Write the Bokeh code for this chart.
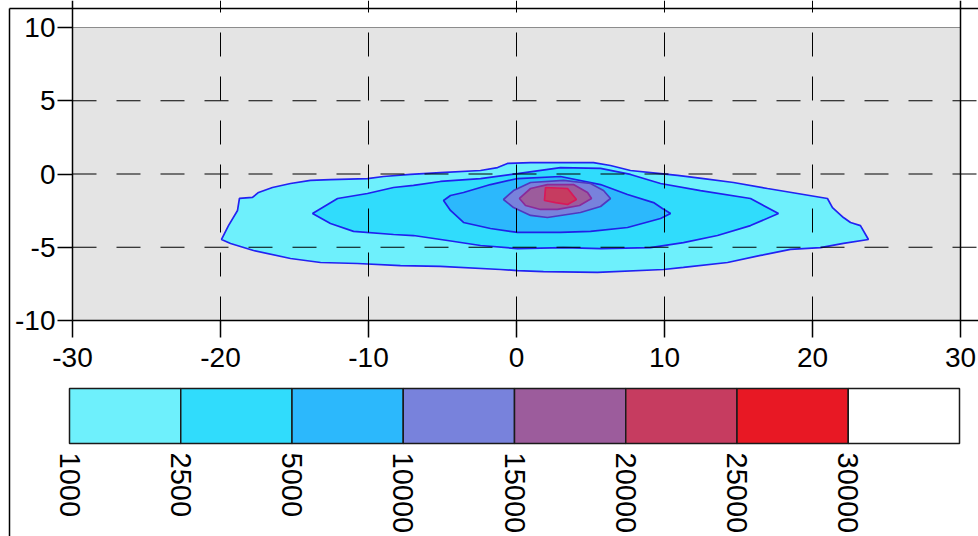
import numpy as np
from bokeh.plotting import figure
from bokeh.models import FixedTicker, Range1d, ColumnDataSource
from bokeh.embed import file_html
from bokeh.resources import INLINE
from bokeh.core.properties import value

# ---------------- data ----------------
level_labels = ["1000", "2500", "5000", "10000", "15000", "20000", "25000", "30000"]
level_colors = ["#6EF0FC", "#30DCFC", "#2CB8FC", "#7882DC", "#9C5C9C", "#C63C60", "#E81824", "#FFFFFF"]
x_ticks = [-30, -20, -10, 0, 10, 20, 30]
y_ticks = [-10, -5, 0, 5, 10]

# filled contour regions (outer boundary of each level)
c1000_x = [-19.93, -19.46, -18.85, -18.72, -17.84, -17.43, -16.49, -15.27, -13.92, -12.57, -10.07, -8.99,
           -7.16, -5.14, -2.43, -1.28, -0.61, 0.95, 5.20, 6.35, 7.70, 9.73, 10.88, 12.64, 14.66, 16.96,
           18.99, 21.01, 21.35, 22.09, 22.57, 23.24, 23.78, 22.09, 20.54, 18.51, 16.49, 14.26, 11.28, 9.93,
           5.47, 1.82, 0.07, -1.08, -5.14, -7.84, -10.74, -13.24, -15.27, -17.77, -19.32]
c1000_y = [-4.47, -3.52, -2.49, -1.67, -1.60, -1.26, -0.92, -0.65, -0.44, -0.38, -0.31, -0.17,
           -0.03, 0.10, 0.24, 0.44, 0.72, 0.78, 0.78, 0.58, 0.24, 0.03, -0.10, -0.31, -0.58, -0.99,
           -1.33, -1.67, -2.29, -2.97, -3.31, -3.52, -4.47, -4.74, -5.02, -5.15, -5.56, -6.04, -6.38, -6.52,
           -6.72, -6.66, -6.59, -6.52, -6.31, -6.25, -6.11, -6.04, -5.77, -5.22, -4.74]

c2500_x = [-13.78, -12.09, -10.07, -8.31, -6.96, -5.14, -2.43, 0.07, 2.97, 5.68, 7.70, 9.73, 12.43,
           15.81, 17.70, 15.81, 13.58, 11.28, 9.05, 5.68, 3.18, 0.07, -2.43, -4.66, -6.96, -8.31,
           -11.01, -12.57]
c2500_y = [-2.70, -1.67, -1.33, -0.92, -0.78, -0.51, -0.31, 0.03, 0.44, 0.38, -0.03, -0.65, -1.13,
           -1.67, -2.70, -3.52, -4.20, -4.68, -5.02, -5.09, -5.02, -5.09, -4.88, -4.54, -4.20, -4.13,
           -3.92, -3.38]

c5000_x = [-4.93, -4.46, -3.58, -1.76, 0.07, 2.97, 5.68, 7.50, 9.26, 9.86, 10.41, 9.73, 7.50, 5.00,
           2.97, 0.07, -1.76, -3.58, -4.46]
c5000_y = [-1.81, -1.47, -1.26, -0.72, -0.31, -0.17, -0.72, -1.40, -1.95, -2.35, -2.70, -3.04, -3.65,
           -3.92, -3.99, -3.99, -3.72, -3.31, -2.49]

c10000_x = [-0.88, -0.20, 0.95, 3.18, 5.00, 5.88, 6.35, 5.68, 4.32, 2.09, 0.95, -0.20]
c10000_y = [-1.74, -1.13, -0.58, -0.44, -0.65, -1.13, -1.67, -2.22, -2.63, -2.97, -2.83, -2.29]

c15000_x = [0.20, 0.95, 2.09, 3.85, 4.80, 5.07, 4.26, 2.77, 1.62, 0.61]
c15000_y = [-1.67, -0.99, -0.72, -0.72, -1.26, -1.67, -2.15, -2.42, -2.42, -2.15]

c20000_x = [1.96, 3.45, 4.05, 3.45, 2.64, 1.89]
c20000_y = [-0.92, -0.99, -1.74, -2.08, -1.95, -1.81]

contour_xs = [c1000_x, c2500_x, c5000_x, c10000_x, c15000_x, c20000_x]
contour_ys = [c1000_y, c2500_y, c5000_y, c10000_y, c15000_y, c20000_y]

# ---------------- layout (canvas pixels) ----------------
W, H = 978, 536
PX_L, PX_R = 72, 960      # x = -30, x = 30
PY_T, PY_B = 27, 320      # y = 10, y = -10
sx = (PX_R - PX_L) / (x_ticks[-1] - x_ticks[0])
sy = (PY_B - PY_T) / (y_ticks[-1] - y_ticks[0])
X0 = x_ticks[0] - PX_L / sx
X1 = X0 + W / sx
Y1 = y_ticks[-1] + PY_T / sy
Y0 = Y1 - H / sy


def cx(px):
    return X0 + px / sx


def cy(py):
    return Y1 - py / sy


FONT = "Liberation Sans"

p = figure(width=W, height=H, x_range=Range1d(X0, X1), y_range=Range1d(Y0, Y1),
           output_backend="svg", toolbar_location=None, title=None, min_border=0)
p.min_border_left = p.min_border_right = p.min_border_top = p.min_border_bottom = 0
p.outline_line_color = None
p.background_fill_color = "white"
p.border_fill_color = "white"
p.xgrid.visible = False
p.ygrid.visible = False

# grey plotting box
p.quad(left=[x_ticks[0]], right=[x_ticks[-1]], bottom=[y_ticks[0]], top=[y_ticks[-1]],
       fill_color="#E4E4E4", line_color="#8C8C8C", line_width=1)

# filled contours
line_cols = ["#2222F2", "#2020F0", "#2020E8", "#5038C0", "#8A2A9A", "#D8185A"]
src = ColumnDataSource(dict(xs=contour_xs, ys=contour_ys, fill=level_colors[:len(contour_xs)],
                            line=line_cols))
p.patches(xs="xs", ys="ys", source=src, fill_color="fill", line_color="line", line_width=1.7)

# dashed grid lines, drawn on top of the contours
gx = x_ticks[1:-1]
gy = y_ticks[1:-1]
p.segment(x0=gx, y0=[y_ticks[0]] * len(gx), x1=gx, y1=[Y1] * len(gx),
          line_color="black", line_width=1, line_dash="24 20")
p.segment(x0=[x_ticks[0]] * len(gy), y0=gy, x1=[X1] * len(gy), y1=gy,
          line_color="black", line_width=1, line_dash="24 20")
# solid right edge of the plotting box
p.segment(x0=[x_ticks[-1]], y0=[y_ticks[0]], x1=[x_ticks[-1]], y1=[Y1],
          line_color="black", line_width=1.5)

# outer frame lines (left and top)
p.segment(x0=[cx(9), cx(9)], y0=[Y0, cy(8)], x1=[cx(9), X1], y1=[cy(8), cy(8)],
          line_color="black", line_width=1.5)

# axes
xa = p.xaxis[0]
ya = p.yaxis[0]
xa.fixed_location = y_ticks[0]
ya.fixed_location = x_ticks[0]
xa.bounds = (x_ticks[0], X1)
ya.bounds = (y_ticks[0], Y1)
xa.ticker = FixedTicker(ticks=x_ticks)
ya.ticker = FixedTicker(ticks=y_ticks)
xa.major_label_overrides = {t: str(t) for t in x_ticks}
ya.major_label_overrides = {t: str(t) for t in y_ticks}
for ax, tout, so in ((xa, 17, 10), (ya, 15, 2)):
    ax.major_tick_out = tout
    ax.major_tick_in = 0
    ax.minor_tick_out = 0
    ax.minor_tick_in = 0
    ax.axis_line_color = "black"
    ax.axis_line_width = 1.5
    ax.major_tick_line_color = "black"
    ax.major_tick_line_width = 1.5
    ax.major_label_text_font = FONT
    ax.major_label_text_font_size = "28px"
    ax.major_label_text_color = "black"
    ax.major_label_standoff = so

# colour bar
nb = len(level_colors)
edges = np.linspace(cx(69), cx(959), nb + 1)
p.quad(left=edges[:-1], right=edges[1:], top=cy(388), bottom=cy(443),
       fill_color=level_colors, line_color="#1A1A1A", line_width=1.5)
p.text(x=edges[:len(level_labels)], y=cy(452), text=level_labels, angle=-np.pi / 2,
       text_align="left", text_baseline="middle", text_font=value(FONT),
       text_font_size="29px", text_color="black")

open("out.html", "w").write(file_html(p, INLINE))
